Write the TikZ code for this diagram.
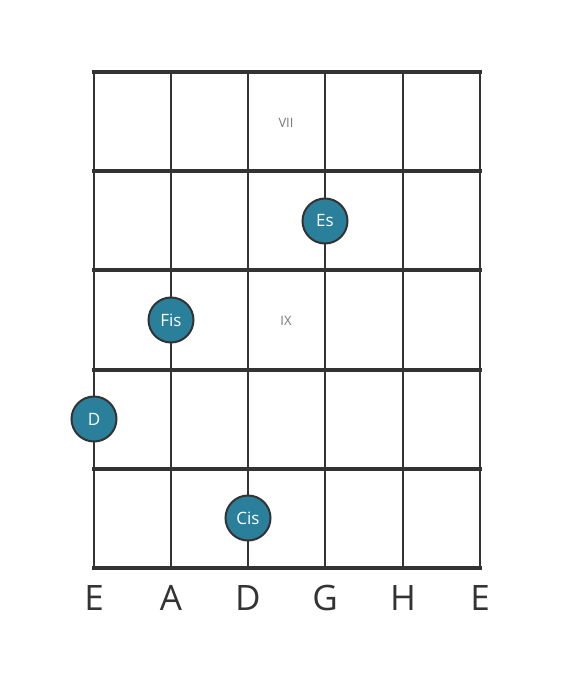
\documentclass[tikz,border=0pt]{standalone}
\usepackage{fontspec}
\setmainfont{Open Sans}
\begin{document}
\begin{tikzpicture}[x=1pt,y=-1pt,
  fret/.style={line width=4pt,draw=black!80},
  string/.style={line width=2.6pt,draw=black!80},
  note/.style={circle,minimum size=45pt,inner sep=0pt,fill={rgb,255:red,42;green,127;blue,155},draw=black!80,line width=2pt,text=white,font=\fontsize{17}{19}\selectfont},
  fretnum/.style={text={rgb,255:red,120;green,120;blue,120},font=\fontsize{13}{15}\selectfont},
  strlabel/.style={text=black!80,font=\fontsize{35}{40}\selectfont,anchor=mid}]
\useasboundingbox (0,0) rectangle (560,682);
\foreach \x in {94,171,248,325,403,480} \draw[string] (\x,72) -- (\x,568);
\foreach \y in {72,171,270,370,469,568} \draw[fret] (92,\y) -- (482,\y);
\node[fretnum] (p7) at (286,123) {VII};
\node[fretnum] (p9) at (286,321) {IX};
\node[note] (n1) at (325,221) {Es};
\node[note] (n2) at (171,320) {Fis};
\node[note] (n3) at (94,419) {D};
\node[note] (n4) at (248,518) {Cis};
\node[strlabel] (s1) at (94,608) {E};
\node[strlabel] (s2) at (171,608) {A};
\node[strlabel] (s3) at (248,608) {D};
\node[strlabel] (s4) at (325,608) {G};
\node[strlabel] (s5) at (403,608) {H};
\node[strlabel] (s6) at (480,608) {E};
\end{tikzpicture}
\end{document}
